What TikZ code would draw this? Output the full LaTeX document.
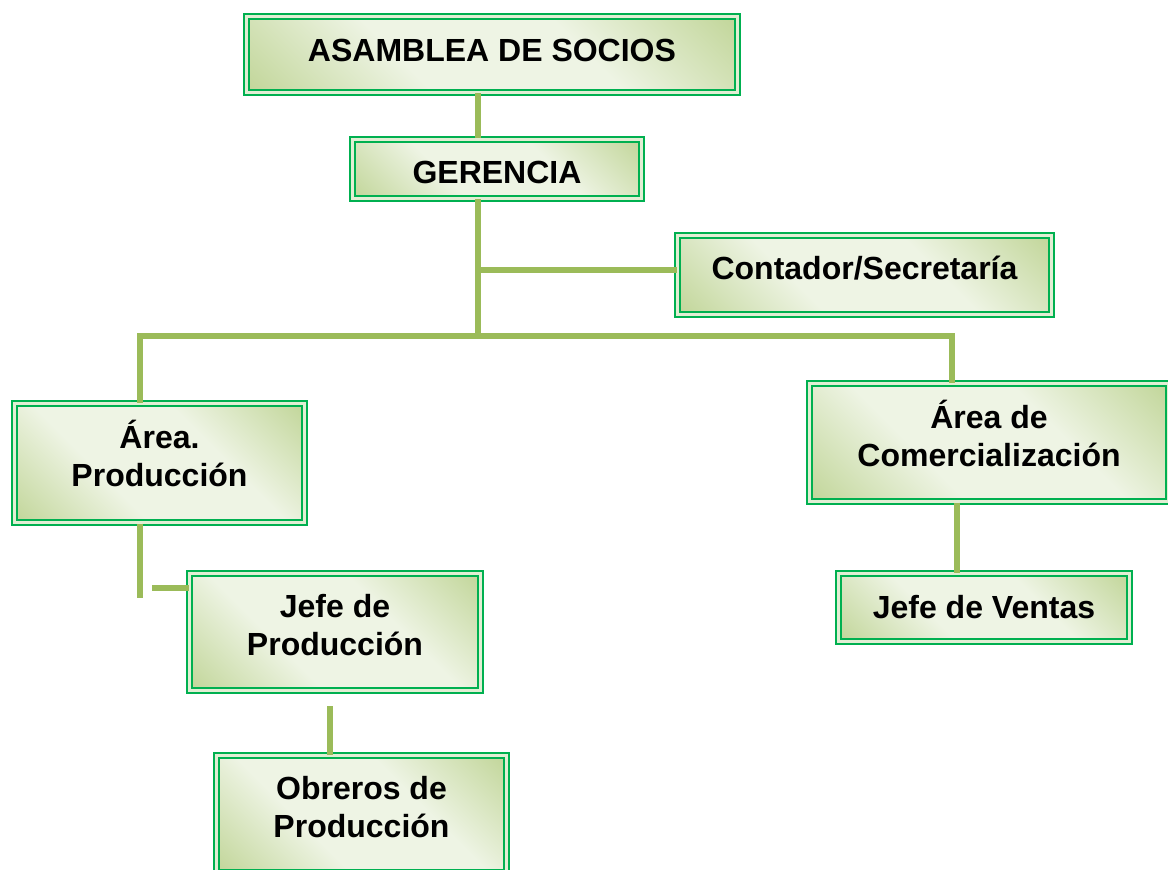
\documentclass[tikz,border=0pt]{standalone}
\usepackage{fontspec}
\setmainfont{Liberation Sans}
\usepackage{tikz}

\definecolor{boxgreen}{HTML}{00B050}
\definecolor{boxgap}{HTML}{E2EED4}
\definecolor{boxlight}{HTML}{EEF4E4}
\definecolor{boxdark}{HTML}{C2D69A}
\definecolor{linkgreen}{HTML}{9BBB59}

\pgfdeclarehorizontalshading{boxshade}{100bp}{color(0bp)=(boxdark); color(15bp)=(boxdark); color(38bp)=(boxlight); color(62bp)=(boxlight); color(85bp)=(boxdark); color(100bp)=(boxdark)}

\def\px{0.75pt}

\begin{document}
\begin{tikzpicture}[
    x=0.75pt, y=-0.75pt,
    orgbox/.style={
        rectangle,
        draw=boxgreen,
        line width=1.5pt,
        double=boxgap,
        double distance=2pt,
        shading=boxshade,
        shading angle=45,
        inner sep=0pt,
        align=center,
        font=\fontsize{24}{28.5}\selectfont\bfseries
    },
    link/.style={
        draw=linkgreen,
        line width=4.5pt
    }
]

    \useasboundingbox[fill=white] (0,0) rectangle (1168,870);

    % Boxes
    \node[orgbox, minimum width=491*\px, minimum height=76*\px, text depth=6pt] (socios) at (492,54.5) {ASAMBLEA DE SOCIOS};
    \node[orgbox, minimum width=289*\px, minimum height=59*\px, text height=22pt] (gerencia) at (497,169) {GERENCIA};
    \node[orgbox, minimum width=374*\px, minimum height=79*\px, text depth=11pt] (contador) at (864.5,275) {Contador/Secretaría};
    \node[orgbox, minimum width=290*\px, minimum height=119*\px, text depth=14pt] (produccion) at (159.5,463) {Área.\\Producción};
    \node[orgbox, minimum width=359*\px, minimum height=118*\px, text depth=14pt] (comercial) at (989,442.5) {Área de\\Comercialización};
    \node[orgbox, minimum width=291*\px, minimum height=117*\px, text depth=10pt] (jefeprod) at (335,632) {Jefe de\\Producción};
    \node[orgbox, minimum width=291*\px, minimum height=68*\px] (ventas) at (984,607.5) {Jefe de Ventas};
    \node[orgbox, minimum width=290*\px, minimum height=117*\px, text depth=11pt] (obreros) at (361.5,814) {Obreros de\\Producción};

    % Branch points
    \coordinate (trunk) at (478,336);
    \coordinate (tap) at (478,270);
    \coordinate (busL) at (140,336);
    \coordinate (busR) at (952,336);
    \coordinate (stubP) at (140,598);
    \coordinate (stubJ) at (152,588);
    \coordinate (linkV) at (957,540);
    \coordinate (stubO) at (330,706);

    % Connectors
    \draw[link] (socios.south -| trunk) -- (gerencia.north -| trunk);
    \draw[link] (gerencia.south -| trunk) -- (trunk);
    \draw[link] (tap) -- (tap -| contador.west);
    \draw[link] (busL |- produccion.north) -- (busL) -- (busR) -- (busR |- comercial.north);
    \draw[link] (stubP |- produccion.south) -- (stubP);
    \draw[link] (stubJ) -- (stubJ -| jefeprod.west);
    \draw[link] (linkV |- comercial.south) -- (linkV |- ventas.north);
    \draw[link] (stubO) -- (stubO |- obreros.north);

\end{tikzpicture}
\end{document}
